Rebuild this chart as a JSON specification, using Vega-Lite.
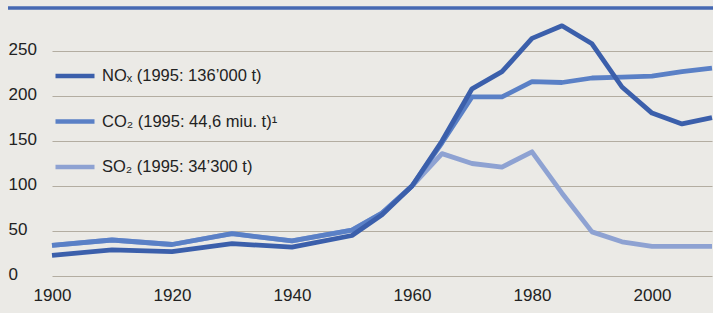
{
  "$schema": "https://vega.github.io/schema/vega-lite/v6.json",
  "width": 660,
  "height": 270,
  "autosize": {"type": "none"},
  "padding": {"left": 52, "top": 6, "right": 1, "bottom": 37},
  "background": "#ebeae6",
  "config": {"view": {"stroke": null}, "font": "Liberation Sans"},
  "datasets": {
    "bar": [{"x0": 1892.67, "x1": 2010.3, "y": 297.8}],
    "series": [
      {"year": 1900, "s": "SO₂ (1995: 34’300 t)", "v": 34},
      {"year": 1910, "s": "SO₂ (1995: 34’300 t)", "v": 40},
      {"year": 1920, "s": "SO₂ (1995: 34’300 t)", "v": 35},
      {"year": 1930, "s": "SO₂ (1995: 34’300 t)", "v": 47},
      {"year": 1940, "s": "SO₂ (1995: 34’300 t)", "v": 39},
      {"year": 1950, "s": "SO₂ (1995: 34’300 t)", "v": 51},
      {"year": 1955, "s": "SO₂ (1995: 34’300 t)", "v": 70},
      {"year": 1960, "s": "SO₂ (1995: 34’300 t)", "v": 100},
      {"year": 1965, "s": "SO₂ (1995: 34’300 t)", "v": 136},
      {"year": 1970, "s": "SO₂ (1995: 34’300 t)", "v": 125},
      {"year": 1975, "s": "SO₂ (1995: 34’300 t)", "v": 121},
      {"year": 1980, "s": "SO₂ (1995: 34’300 t)", "v": 138},
      {"year": 1985, "s": "SO₂ (1995: 34’300 t)", "v": 92},
      {"year": 1990, "s": "SO₂ (1995: 34’300 t)", "v": 49},
      {"year": 1995, "s": "SO₂ (1995: 34’300 t)", "v": 38},
      {"year": 2000, "s": "SO₂ (1995: 34’300 t)", "v": 33},
      {"year": 2005, "s": "SO₂ (1995: 34’300 t)", "v": 33},
      {"year": 2010, "s": "SO₂ (1995: 34’300 t)", "v": 33},
      {"year": 1900, "s": "CO₂ (1995: 44,6 miu. t)¹", "v": 34},
      {"year": 1910, "s": "CO₂ (1995: 44,6 miu. t)¹", "v": 40},
      {"year": 1920, "s": "CO₂ (1995: 44,6 miu. t)¹", "v": 35},
      {"year": 1930, "s": "CO₂ (1995: 44,6 miu. t)¹", "v": 47},
      {"year": 1940, "s": "CO₂ (1995: 44,6 miu. t)¹", "v": 39},
      {"year": 1950, "s": "CO₂ (1995: 44,6 miu. t)¹", "v": 51},
      {"year": 1955, "s": "CO₂ (1995: 44,6 miu. t)¹", "v": 70},
      {"year": 1960, "s": "CO₂ (1995: 44,6 miu. t)¹", "v": 100},
      {"year": 1965, "s": "CO₂ (1995: 44,6 miu. t)¹", "v": 148},
      {"year": 1970, "s": "CO₂ (1995: 44,6 miu. t)¹", "v": 199},
      {"year": 1975, "s": "CO₂ (1995: 44,6 miu. t)¹", "v": 199},
      {"year": 1980, "s": "CO₂ (1995: 44,6 miu. t)¹", "v": 216},
      {"year": 1985, "s": "CO₂ (1995: 44,6 miu. t)¹", "v": 215},
      {"year": 1990, "s": "CO₂ (1995: 44,6 miu. t)¹", "v": 220},
      {"year": 1995, "s": "CO₂ (1995: 44,6 miu. t)¹", "v": 221},
      {"year": 2000, "s": "CO₂ (1995: 44,6 miu. t)¹", "v": 222},
      {"year": 2005, "s": "CO₂ (1995: 44,6 miu. t)¹", "v": 227},
      {"year": 2010, "s": "CO₂ (1995: 44,6 miu. t)¹", "v": 231},
      {"year": 1900, "s": "NOₓ (1995: 136’000 t)", "v": 23},
      {"year": 1910, "s": "NOₓ (1995: 136’000 t)", "v": 29},
      {"year": 1920, "s": "NOₓ (1995: 136’000 t)", "v": 27},
      {"year": 1930, "s": "NOₓ (1995: 136’000 t)", "v": 36},
      {"year": 1940, "s": "NOₓ (1995: 136’000 t)", "v": 32},
      {"year": 1950, "s": "NOₓ (1995: 136’000 t)", "v": 45},
      {"year": 1955, "s": "NOₓ (1995: 136’000 t)", "v": 68},
      {"year": 1960, "s": "NOₓ (1995: 136’000 t)", "v": 100},
      {"year": 1965, "s": "NOₓ (1995: 136’000 t)", "v": 150},
      {"year": 1970, "s": "NOₓ (1995: 136’000 t)", "v": 208},
      {"year": 1975, "s": "NOₓ (1995: 136’000 t)", "v": 227},
      {"year": 1980, "s": "NOₓ (1995: 136’000 t)", "v": 264},
      {"year": 1985, "s": "NOₓ (1995: 136’000 t)", "v": 278},
      {"year": 1990, "s": "NOₓ (1995: 136’000 t)", "v": 258},
      {"year": 1995, "s": "NOₓ (1995: 136’000 t)", "v": 210},
      {"year": 2000, "s": "NOₓ (1995: 136’000 t)", "v": 181},
      {"year": 2005, "s": "NOₓ (1995: 136’000 t)", "v": 169},
      {"year": 2010, "s": "NOₓ (1995: 136’000 t)", "v": 176}
    ]
  },
  "layer": [
    {
      "data": {"name": "bar"},
      "mark": {"type": "rule", "color": "#4568b2", "strokeWidth": 3.5, "clip": false},
      "encoding": {
        "x": {"field": "x0", "type": "quantitative", "scale": {"domain": [1900, 2010], "nice": false, "zero": false}},
        "x2": {"field": "x1"},
        "y": {"field": "y", "type": "quantitative", "scale": {"domain": [0, 300], "nice": false}}
      }
    },
    {
      "data": {"name": "series"},
      "mark": {"type": "line", "strokeWidth": 4.8, "strokeJoin": "round", "strokeCap": "butt"},
      "encoding": {
        "x": {
          "field": "year", "type": "quantitative",
          "scale": {"domain": [1900, 2010], "nice": false, "zero": false},
          "axis": {"title": null, "values": [1900, 1920, 1940, 1960, 1980, 2000], "format": "d", "grid": false, "domain": false, "ticks": false, "tickSize": 0, "labelPadding": 11, "labelFontSize": 17, "labelColor": "#222", "labelFont": "Liberation Sans", "labelFlush": false}
        },
        "y": {
          "field": "v", "type": "quantitative",
          "scale": {"domain": [0, 300], "nice": false},
          "axis": {"title": null, "values": [0, 50, 100, 150, 200, 250], "grid": true, "gridColor": "#b3ada1", "gridWidth": 1, "domain": false, "ticks": false, "tickSize": 0, "labelAlign": "left", "labelBaseline": "middle", "labelPadding": 44, "labelOffset": -2, "labelFontSize": 17, "labelColor": "#222", "labelFont": "Liberation Sans"}
        },
        "color": {
          "field": "s", "type": "nominal",
          "scale": {
            "domain": ["NOₓ (1995: 136’000 t)", "CO₂ (1995: 44,6 miu. t)¹", "SO₂ (1995: 34’300 t)"],
            "range": ["#3b5fab", "#5a80c6", "#8ea2d2"]
          },
          "legend": {"title": null, "orient": "none", "legendX": 1, "legendY": 48, "symbolType": "stroke", "symbolSize": 1521, "symbolStrokeWidth": 4.5, "labelFontSize": 16.5, "labelColor": "#222", "labelFont": "Liberation Sans", "labelOffset": 5, "labelLimit": 400, "rowPadding": 14.5}
        }
      }
    }
  ]
}
